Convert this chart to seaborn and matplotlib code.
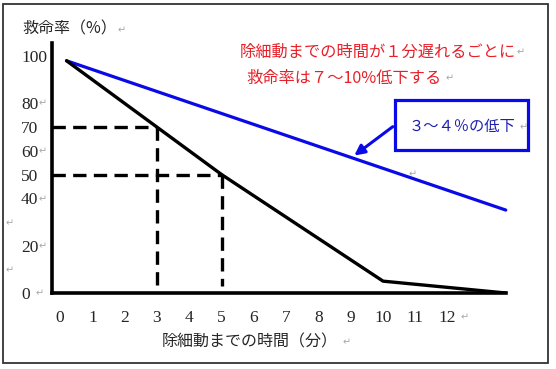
import numpy as np
import pandas as pd
import matplotlib
matplotlib.use('Agg')
import matplotlib.pyplot as plt
from matplotlib.patches import Rectangle
import seaborn as sns

# %%
# values
minutes_black = [0.2, 3, 5, 10, 13.8]
rate_black = [98, 70, 50, 5, 0]
minutes_blue = [0.2, 13.8]
rate_blue = [98, 35]
guide_minutes = [3, 5]
guide_rates = [70, 50]
x_ticks = list(range(13))
y_ticks = [0, 20, 40, 50, 60, 70, 80, 100]

title_text = '救命率（%）'
xlabel_text = '除細動までの時間（分）'
note_lines = ['除細動までの時間が１分遅れるごとに', '救命率は７～10%低下する']
box_text = '３～４％の低下'

JP = ['Noto Sans CJK JP', 'DejaVu Sans']
SERIF = ['Liberation Serif', 'DejaVu Serif']
W, H = 556, 369


def fpos(x, y):
    # pixel position -> figure fraction
    return x / W, 1 - y / H


# %%
sns.set_style('white')
plt.rcParams['font.family'] = JP

fig = plt.figure(figsize=(W / 100, H / 100), dpi=100)
ax = fig.add_axes([52 / W, (H - 293) / H, (540 - 52) / W, (293 - 20) / H])
ax.set_xlim(-0.25, 14.86)
ax.set_ylim(0, 115.2)

df_black = pd.DataFrame({'min': minutes_black, 'rate': rate_black})
df_blue = pd.DataFrame({'min': minutes_blue, 'rate': rate_blue})
sns.lineplot(data=df_blue, x='min', y='rate', color='#0a0ae8', lw=2.3, ax=ax, sort=False)
sns.lineplot(data=df_black, x='min', y='rate', color='black', lw=2.4, ax=ax, sort=False)

# dashed guides at 3 and 5 minutes
for m, r in zip(guide_minutes, guide_rates):
    ax.plot([-0.25, m], [r, r], color='black', lw=2.4, ls=(0, (4, 2.2)))
    ax.plot([m, m], [r, 3], color='black', lw=2.4, ls=(0, (4, 2.2)))

# axes lines
for s in ['top', 'right']:
    ax.spines[s].set_visible(False)
ax.spines['left'].set_linewidth(2.6)
ax.spines['bottom'].set_linewidth(2.6)
ax.spines['left'].set_color('black')
ax.spines['bottom'].set_color('black')
ax.spines['left'].set_bounds(0, 105.5)
ax.spines['bottom'].set_bounds(-0.25, 13.8)

ax.set_xticks(x_ticks, [str(t) for t in x_ticks], fontsize=12.5, family=SERIF)
ax.set_yticks(y_ticks, [str(t) for t in y_ticks], fontsize=12.5, family=SERIF)
ax.tick_params(axis='x', length=0, pad=12.5)
ax.tick_params(axis='y', length=0, pad=22.3)
for lab in ax.get_yticklabels():
    lab.set_ha('left')

ax.set_ylabel('')
ax.set_xlabel(xlabel_text, fontsize=11.5)
ax.xaxis.set_label_coords((250 - 52) / (540 - 52), -(342 - 293) / (293 - 20), transform=ax.transAxes)
ax.xaxis.label.set_va('center')

# texts
fig.text(*fpos(22, 29), title_text, fontsize=11.5, ha='left', va='center')
fig.text(*fpos(240, 52), note_lines[0], fontsize=11.7, color='#e8202a', ha='left', va='center')
fig.text(*fpos(246, 78), note_lines[1], fontsize=11.7, color='#e8202a', ha='left', va='center')

# blue callout box with arrow
x0, y0 = fpos(395, 150)
fig.add_artist(Rectangle((x0, y0), 133 / W, 50 / H, transform=fig.transFigure,
                         facecolor='white', edgecolor='#0a0ae8', lw=2.3))
fig.text(*fpos(462, 127), box_text, fontsize=11, color='#2020b0', ha='center', va='center')
ax.annotate('', xy=(9.04, 57.3), xycoords='data', xytext=fpos(395, 125),
            textcoords='figure fraction',
            arrowprops=dict(arrowstyle='-|>', color='#0a0ae8', lw=2.2, mutation_scale=15))

# paragraph marks of the source document
marks = [(122, 30), (521, 52), (450, 78), (524, 127), (43, 103), (43, 151), (43, 199),
         (43, 246), (40, 293), (10, 223), (10, 270), (465, 317), (347, 342), (413, 174)]
for mx, my in marks:
    fig.text(*fpos(mx, my), '↵', fontsize=7, color='#a8a8a8', ha='center', va='center',
             family='DejaVu Sans')

# outer frame
fig.add_artist(Rectangle(fpos(3, 363), 545 / W, 359 / H, transform=fig.transFigure,
                         fill=False, edgecolor='#333333', lw=1.3))

fig.savefig('out.png', dpi=100)
